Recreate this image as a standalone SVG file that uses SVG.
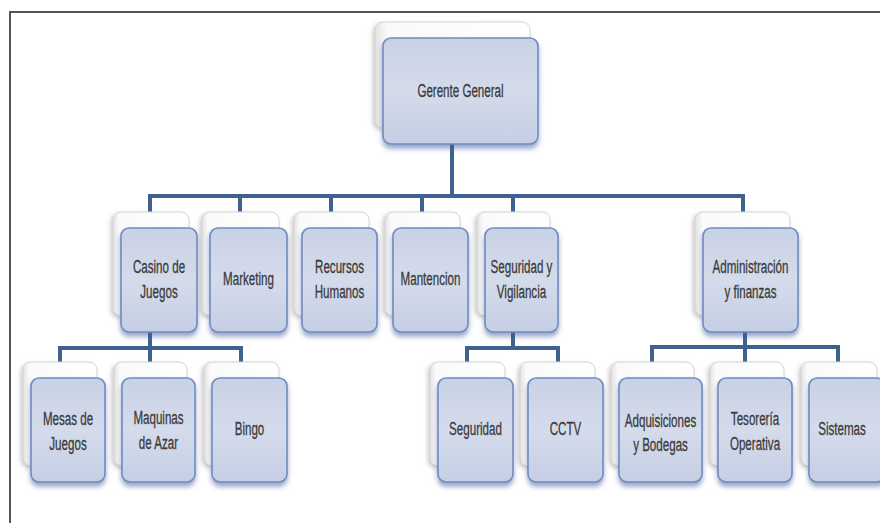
<svg xmlns="http://www.w3.org/2000/svg" width="880" height="523" viewBox="0 0 880 523">
<defs>
<linearGradient id="gFront" x1="0" y1="0" x2="0" y2="1">
<stop offset="0" stop-color="#c9d1e5"/>
<stop offset="0.5" stop-color="#d4dbeb"/>
<stop offset="1" stop-color="#c5cee4"/>
</linearGradient>
<linearGradient id="gBack" x1="0" y1="0" x2="1" y2="0">
<stop offset="0" stop-color="#e2e2e2"/>
<stop offset="0.08" stop-color="#fafafa"/>
<stop offset="1" stop-color="#ffffff"/>
</linearGradient>
<filter id="sh" x="-20%" y="-20%" width="140%" height="150%">
<feDropShadow dx="0" dy="4" stdDeviation="2.5" flood-color="#4a5c9c" flood-opacity="0.55"/>
</filter>
<filter id="shb" x="-20%" y="-20%" width="140%" height="140%">
<feDropShadow dx="-2" dy="2" stdDeviation="2" flood-color="#999" flood-opacity="0.5"/>
</filter>
</defs>
<style>
.back{fill:url(#gBack);stroke:#d4d4d4;stroke-width:1;filter:url(#shb)}
.front{fill:url(#gFront);stroke:#6f8cc0;stroke-width:1.6;filter:url(#sh)}
.conn{stroke:#3f6190;stroke-width:4;fill:none;stroke-linecap:butt}
.t{font-family:"Liberation Sans",Arial,sans-serif;font-size:19px;fill:#3a3a3a;stroke:#3a3a3a;stroke-width:0.3;text-anchor:middle}
.frame{stroke:#555;stroke-width:2;fill:none}
</style>
<rect width="880" height="523" fill="#ffffff"/>
<path class="frame" d="M10 523 V12 H880"/>

<g id="connectors">
<path class="conn" d="M452 130 V196 M150 196 H745 M150 194 V212 M240 194 V212 M331 194 V212 M422 194 V212 M513 194 V212 M743 194 V212"/>
<path class="conn" d="M150 320 V362 M58 348 H243 M60 346 V362 M241 346 V362"/>
<path class="conn" d="M513 320 V348 M465 348 H560 M467 346 V362 M558 346 V362"/>
<path class="conn" d="M745 320 V362 M650 347 H840 M652 345 V362 M838 345 V362"/>
</g>

<g id="gerente">
<rect class="back" x="375" y="22" width="155" height="106" rx="8"/>
<rect class="front" x="383" y="38" width="155" height="106" rx="8"/>
<g transform="translate(460.5,0) scale(0.61,1)"><text class="t" x="0" y="97">Gerente General</text></g>
</g>

<g id="casino">
<rect class="back" x="113" y="212" width="76" height="104" rx="8"/>
<rect class="front" x="121" y="228" width="76" height="104" rx="8"/>
<g transform="translate(159,0) scale(0.61,1)"><text class="t" x="0" y="273">Casino de</text><text class="t" x="0" y="298">Juegos</text></g>
</g>
<g id="marketing">
<rect class="back" x="202" y="212" width="77" height="104" rx="8"/>
<rect class="front" x="210" y="228" width="77" height="104" rx="8"/>
<g transform="translate(248.5,0) scale(0.61,1)"><text class="t" x="0" y="285">Marketing</text></g>
</g>
<g id="recursos">
<rect class="back" x="294" y="212" width="75" height="104" rx="8"/>
<rect class="front" x="302" y="228" width="75" height="104" rx="8"/>
<g transform="translate(339.5,0) scale(0.61,1)"><text class="t" x="0" y="273">Recursos</text><text class="t" x="0" y="298">Humanos</text></g>
</g>
<g id="mantencion">
<rect class="back" x="385" y="212" width="75" height="104" rx="8"/>
<rect class="front" x="393" y="228" width="75" height="104" rx="8"/>
<g transform="translate(430.5,0) scale(0.61,1)"><text class="t" x="0" y="285">Mantencion</text></g>
</g>
<g id="seguridad-vigilancia">
<rect class="back" x="477" y="212" width="73" height="104" rx="8"/>
<rect class="front" x="485" y="228" width="73" height="104" rx="8"/>
<g transform="translate(521.5,0) scale(0.61,1)"><text class="t" x="0" y="273">Seguridad y</text><text class="t" x="0" y="298">Vigilancia</text></g>
</g>
<g id="administracion">
<rect class="back" x="695" y="212" width="95" height="104" rx="8"/>
<rect class="front" x="703" y="228" width="95" height="104" rx="8"/>
<g transform="translate(750.5,0) scale(0.61,1)"><text class="t" x="0" y="273">Administración</text><text class="t" x="0" y="298">y finanzas</text></g>
</g>

<g id="mesas">
<rect class="back" x="23" y="362" width="74" height="104" rx="8"/>
<rect class="front" x="31" y="378" width="74" height="104" rx="8"/>
<g transform="translate(68,0) scale(0.61,1)"><text class="t" x="0" y="425">Mesas de</text><text class="t" x="0" y="450">Juegos</text></g>
</g>
<g id="maquinas">
<rect class="back" x="114" y="362" width="73" height="104" rx="8"/>
<rect class="front" x="122" y="378" width="73" height="104" rx="8"/>
<g transform="translate(158.5,0) scale(0.61,1)"><text class="t" x="0" y="424">Maquinas</text><text class="t" x="0" y="449">de Azar</text></g>
</g>
<g id="bingo">
<rect class="back" x="204" y="362" width="75" height="104" rx="8"/>
<rect class="front" x="212" y="378" width="75" height="104" rx="8"/>
<g transform="translate(249.5,0) scale(0.61,1)"><text class="t" x="0" y="435">Bingo</text></g>
</g>
<g id="seguridad">
<rect class="back" x="430" y="362" width="75" height="104" rx="8"/>
<rect class="front" x="438" y="378" width="75" height="104" rx="8"/>
<g transform="translate(475.5,0) scale(0.61,1)"><text class="t" x="0" y="435">Seguridad</text></g>
</g>
<g id="cctv">
<rect class="back" x="520" y="362" width="75" height="104" rx="8"/>
<rect class="front" x="528" y="378" width="75" height="104" rx="8"/>
<g transform="translate(565.5,0) scale(0.61,1)"><text class="t" x="0" y="435">CCTV</text></g>
</g>
<g id="adquisiciones">
<rect class="back" x="611" y="362" width="83" height="104" rx="8"/>
<rect class="front" x="619" y="378" width="83" height="104" rx="8"/>
<g transform="translate(660.5,0) scale(0.61,1)"><text class="t" x="0" y="427">Adquisiciones</text><text class="t" x="0" y="451">y Bodegas</text></g>
</g>
<g id="tesoreria">
<rect class="back" x="710" y="362" width="74" height="104" rx="8"/>
<rect class="front" x="718" y="378" width="74" height="104" rx="8"/>
<g transform="translate(755,0) scale(0.61,1)"><text class="t" x="0" y="425">Tesorería</text><text class="t" x="0" y="450">Operativa</text></g>
</g>
<g id="sistemas">
<rect class="back" x="801" y="362" width="76" height="104" rx="8"/>
<rect class="front" x="809" y="378" width="76" height="104" rx="8"/>
<g transform="translate(842,0) scale(0.61,1)"><text class="t" x="0" y="435">Sistemas</text></g>
</g>
</svg>
